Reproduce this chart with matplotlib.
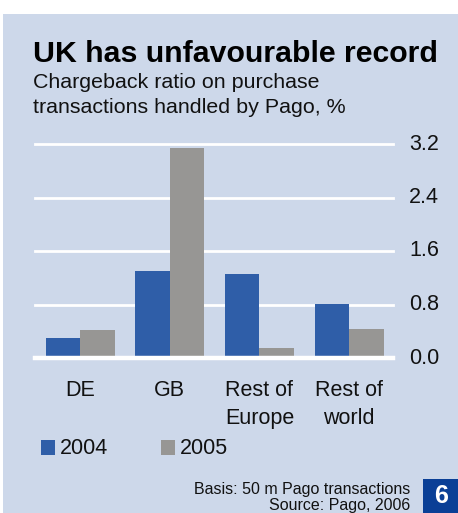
import numpy as np
import matplotlib.pyplot as plt
from matplotlib.patches import Rectangle

# dati
categorie = ['DE', 'GB', 'Rest of\nEurope', 'Rest of\nworld']
anni = ['2004', '2005']
val_2004 = [0.30, 1.30, 1.26, 0.81]
val_2005 = [0.42, 3.14, 0.15, 0.43]
yticks = [0.0, 0.8, 1.6, 2.4, 3.2]

blu = '#2f5ea8'
grigio = '#979694'
sfondo = '#cdd8ea'

plt.rcParams['font.family'] = ['Liberation Sans', 'DejaVu Sans']

W, H = 458, 513
fig = plt.figure(figsize=(W / 100, H / 100), dpi=100)
fig.patch.set_facecolor('white')

# coordinate in pixel (dall'alto) -> frazioni della figura
def fx(px):
    return px / W

def fy(py):
    return 1 - py / H

# pannello di sfondo
fig.patches.append(Rectangle((fx(3), 0), fx(458) - fx(3), fy(14), transform=fig.transFigure,
                             facecolor=sfondo, edgecolor='none', zorder=-5))

# assi: x da 35 a 393 px, y da 144 (3.2) a 358 (0)
ax = fig.add_axes([fx(35), fy(358), fx(393) - fx(35), fy(144) - fy(358)])
ax.set_facecolor('none')
ax.set_zorder(2)

x = np.arange(len(categorie))
w = 0.385
ax.bar(x - w / 2, val_2004, w, color=blu, zorder=2)
ax.bar(x + w / 2, val_2005, w, color=grigio, zorder=2)

ax.set_xlim(-0.503, 3.49)
ax.set_ylim(0, 3.2)
for v in yticks:
    ax.axhline(v, color='white', lw=3.2 if v == 0 else 2, zorder=3 if v == 0 else 1, clip_on=False)

for s in ax.spines.values():
    s.set_visible(False)
ax.set_xticks([])
ax.set_yticks([])

for v in yticks:
    fig.text(fx(439), ax.transData.transform((0, v))[1] / H, '%.1f' % v, ha='right', va='center',
             fontsize=15.5, color='#111111')

for xi, c in zip(x, categorie):
    px = ax.transData.transform((xi, 0))[0]
    fig.text(px / W, fy(380), c, ha='center', va='top', fontsize=15.5, linespacing=1.45, color='#111111')

# titolo e sottotitolo
fig.text(fx(33), fy(62), 'UK has unfavourable record', fontsize=21.8, fontweight='heavy', color='black')
fig.text(fx(33), fy(88), 'Chargeback ratio on purchase', fontsize=15.4, color='#111111')
fig.text(fx(33), fy(113), 'transactions handled by Pago, %', fontsize=15.4, color='#111111')

# legenda
for lx, col, lab in [(41, blu, anni[0]), (161, grigio, anni[1])]:
    fig.patches.append(Rectangle((fx(lx), fy(455)), fx(14), fy(440) - fy(455), transform=fig.transFigure,
                                 facecolor=col, edgecolor='none'))
    fig.text(fx(lx + 19), fy(448), lab, va='center', fontsize=15.5, color='#111111')

# fonte
fig.text(fx(410), fy(494), 'Basis: 50 m Pago transactions', ha='right', fontsize=11.5, color='#111111')
fig.text(fx(410), fy(510), 'Source: Pago, 2006', ha='right', fontsize=11.5, color='#111111')

fig.patches.append(Rectangle((fx(423), 0), fx(458) - fx(423), fy(479), transform=fig.transFigure,
                             facecolor='#0a3f96', edgecolor='none'))
fig.text(fx(441), fy(496), '6', ha='center', va='center', fontsize=18, fontweight='bold', color='white')

plt.savefig('out.png', dpi=100)
